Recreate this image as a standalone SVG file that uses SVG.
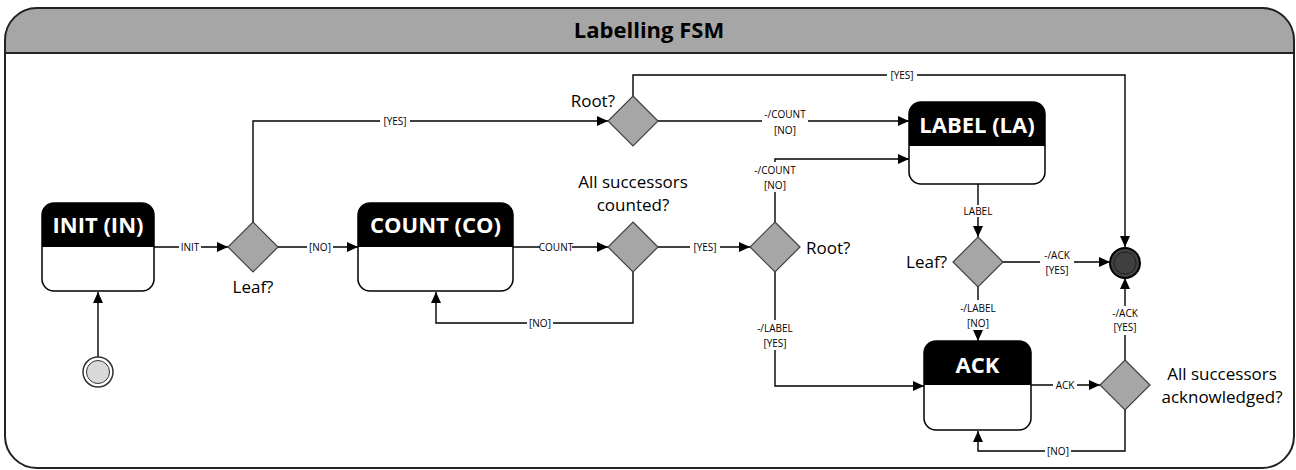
<svg xmlns="http://www.w3.org/2000/svg" width="1296" height="470" viewBox="0 0 1296 470">
<defs>
<marker id="arr" markerUnits="userSpaceOnUse" markerWidth="12" markerHeight="10" refX="11" refY="5" orient="auto"><path d="M0,0 L11,5 L0,10 Z" fill="#000"/></marker>
<style>
.line{fill:none;stroke:#000;stroke-width:1.4}
.lbl{font-family:"Open Sans","Noto Sans",sans-serif;font-size:10px;fill:#000;text-anchor:middle}
.bg{fill:#fff}
.big{font-family:"Open Sans","Noto Sans",sans-serif;font-size:17px;fill:#000}
.hdr{font-family:"Open Sans","Noto Sans",sans-serif;font-size:22px;font-weight:bold;fill:#fff;text-anchor:middle}
.body{fill:#fff;stroke:#000;stroke-width:1.5}
.head{fill:#000}
.dia{fill:#a6a6a6;stroke:#404040;stroke-width:1.2}
</style>
</defs>
<g id="frame">
<path d="M5,53 L5,40 A32,32 0 0 1 37,8 L1262,8 A32,32 0 0 1 1294,40 L1294,53 Z" fill="#a6a6a6"/>
<path d="M5,40 A32,32 0 0 1 37,8 L1262,8 A32,32 0 0 1 1294,40 L1294,436 A32,32 0 0 1 1262,468 L37,468 A32,32 0 0 1 5,436 Z" fill="none" stroke="#222" stroke-width="2"/>
<line x1="5" y1="53" x2="1294" y2="53" stroke="#222" stroke-width="2"/>
<text x="649" y="38" font-family="Open Sans,Noto Sans,sans-serif" font-size="22" font-weight="bold" text-anchor="middle" fill="#000">Labelling FSM</text>
</g>
<g id="connectors">
<path class="line" d="M98,357 L98,292" marker-end="url(#arr)"/>
<path class="line" d="M154,247 L228,247" marker-end="url(#arr)"/>
<path class="line" d="M278,247 L358,247" marker-end="url(#arr)"/>
<path class="line" d="M253,222 L253,121 L608,121" marker-end="url(#arr)"/>
<path class="line" d="M513,247 L608,247" marker-end="url(#arr)"/>
<path class="line" d="M633,272 L633,323 L436,323 L436,292" marker-end="url(#arr)"/>
<path class="line" d="M658,247 L750,247" marker-end="url(#arr)"/>
<path class="line" d="M633,96 L633,75 L1125,75 L1125,247" marker-end="url(#arr)"/>
<path class="line" d="M658,121 L909,121" marker-end="url(#arr)"/>
<path class="line" d="M775,222 L775,159 L909,159" marker-end="url(#arr)"/>
<path class="line" d="M775,272 L775,386 L924,386" marker-end="url(#arr)"/>
<path class="line" d="M978,184 L978,237" marker-end="url(#arr)"/>
<path class="line" d="M1003,262 L1110,262" marker-end="url(#arr)"/>
<path class="line" d="M978,287 L978,341" marker-end="url(#arr)"/>
<path class="line" d="M1031,385 L1100,385" marker-end="url(#arr)"/>
<path class="line" d="M1125,360 L1125,278" marker-end="url(#arr)"/>
<path class="line" d="M1125,410 L1125,451 L978,451 L978,431" marker-end="url(#arr)"/>
<g id="labels">
<rect class="bg" x="179" y="241" width="22" height="12"/><text class="lbl" x="190" y="251">INIT</text>
<rect class="bg" x="307" y="241" width="26" height="12"/><text class="lbl" x="320" y="251">[NO]</text>
<rect class="bg" x="380" y="115" width="30" height="12"/><text class="lbl" x="395" y="125">[YES]</text>
<rect class="bg" x="540" y="241" width="32" height="12"/><text class="lbl" x="556" y="251">COUNT</text>
<rect class="bg" x="527" y="317" width="26" height="12"/><text class="lbl" x="540" y="327">[NO]</text>
<rect class="bg" x="690" y="241" width="30" height="12"/><text class="lbl" x="705" y="251">[YES]</text>
<rect class="bg" x="887" y="69" width="30" height="12"/><text class="lbl" x="902" y="79">[YES]</text>
<rect class="bg" x="762" y="107" width="46" height="30"/><text class="lbl" x="785" y="118">-/COUNT</text><text class="lbl" x="785" y="134">[NO]</text>
<rect class="bg" x="752" y="162" width="46" height="30"/><text class="lbl" x="775" y="174">-/COUNT</text><text class="lbl" x="775" y="189">[NO]</text>
<rect class="bg" x="756" y="320" width="38" height="30"/><text class="lbl" x="775" y="332">-/LABEL</text><text class="lbl" x="775" y="347">[YES]</text>
<rect class="bg" x="962" y="205" width="32" height="12"/><text class="lbl" x="978" y="215">LABEL</text>
<rect class="bg" x="1040" y="248" width="34" height="29"/><text class="lbl" x="1057" y="259">-/ACK</text><text class="lbl" x="1057" y="274">[YES]</text>
<rect class="bg" x="959" y="300" width="38" height="30"/><text class="lbl" x="978" y="312">-/LABEL</text><text class="lbl" x="978" y="327">[NO]</text>
<rect class="bg" x="1108" y="306" width="34" height="29"/><text class="lbl" x="1125" y="317">-/ACK</text><text class="lbl" x="1125" y="331">[YES]</text>
<rect class="bg" x="1053" y="379" width="24" height="12"/><text class="lbl" x="1065" y="389">ACK</text>
<rect class="bg" x="1045" y="445" width="26" height="12"/><text class="lbl" x="1058" y="455">[NO]</text>
</g>
</g>
<g id="start">
<circle cx="98" cy="372" r="15" fill="#fff" stroke="#333" stroke-width="1.5"/>
<circle cx="98" cy="372" r="11.5" fill="#d9d9d9" stroke="#333" stroke-width="1"/>
</g>
<g id="end">
<circle cx="1125" cy="263" r="15" fill="#404040" stroke="#000" stroke-width="2"/>
<circle cx="1125" cy="263" r="11" fill="#404040" stroke="#222" stroke-width="1"/>
</g>
<g id="init">
<rect class="body" x="42" y="203" width="112" height="88" rx="12"/>
<path class="head" d="M42,247 L42,215 A12,12 0 0 1 54,203 L142,203 A12,12 0 0 1 154,215 L154,247 Z"/>
<text class="hdr" x="98" y="233">INIT (IN)</text>
</g>
<g id="count">
<rect class="body" x="358" y="203" width="155" height="88" rx="12"/>
<path class="head" d="M358,247 L358,215 A12,12 0 0 1 370,203 L501,203 A12,12 0 0 1 513,215 L513,247 Z"/>
<text class="hdr" x="435.5" y="233">COUNT (CO)</text>
</g>
<g id="label">
<rect class="body" x="909" y="102" width="136" height="82" rx="12"/>
<path class="head" d="M909,146 L909,114 A12,12 0 0 1 921,102 L1033,102 A12,12 0 0 1 1045,114 L1045,146 Z"/>
<text class="hdr" x="977" y="133">LABEL (LA)</text>
</g>
<g id="ack">
<rect class="body" x="924" y="341" width="107" height="89" rx="12"/>
<path class="head" d="M924,385 L924,353 A12,12 0 0 1 936,341 L1019,341 A12,12 0 0 1 1031,353 L1031,385 Z"/>
<text class="hdr" x="977.5" y="373">ACK</text>
</g>
<g id="leaf1">
<path class="dia" d="M253,222 L278,247 L253,272 L228,247 Z"/>
<text class="big" x="253" y="293" text-anchor="middle">Leaf?</text>
</g>
<g id="counted">
<path class="dia" d="M633,222 L658,247 L633,272 L608,247 Z"/>
<text class="big" x="633" y="188" text-anchor="middle">All successors</text>
<text class="big" x="633" y="211" text-anchor="middle">counted?</text>
</g>
<g id="root1">
<path class="dia" d="M633,96 L658,121 L633,146 L608,121 Z"/>
<text class="big" x="615" y="107" text-anchor="end">Root?</text>
</g>
<g id="root2">
<path class="dia" d="M775,222 L800,247 L775,272 L750,247 Z"/>
<text class="big" x="806" y="254">Root?</text>
</g>
<g id="leaf2">
<path class="dia" d="M978,237 L1003,262 L978,287 L953,262 Z"/>
<text class="big" x="947" y="268" text-anchor="end">Leaf?</text>
</g>
<g id="acked">
<path class="dia" d="M1125,360 L1150,385 L1125,410 L1100,385 Z"/>
<text class="big" x="1222" y="380" text-anchor="middle">All successors</text>
<text class="big" x="1222" y="403" text-anchor="middle">acknowledged?</text>
</g>
</svg>
